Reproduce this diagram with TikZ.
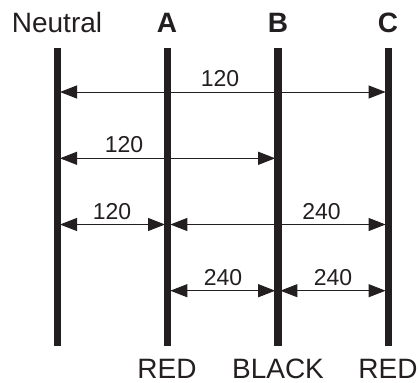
\documentclass[tikz,border=0pt]{standalone}
\usepackage{fontspec}
\setmainfont{Liberation Sans}
\usetikzlibrary{arrows.meta}
\definecolor{ink}{HTML}{231F20}
\tikzset{
 bar/.style={line width=7.4pt,draw=ink},
 dim/.style={line width=1pt,draw=ink,{Triangle[length=17pt,width=13pt,fill=ink]}-{Triangle[length=17pt,width=13pt,fill=ink]}},
 lab/.style={inner sep=0pt,text=ink,font=\fontsize{23pt}{26pt}\selectfont,anchor=base},
 head/.style={inner sep=0pt,text=ink,font=\fontsize{28pt}{32pt}\selectfont,anchor=base}
}
\begin{document}
\begin{tikzpicture}[x=1pt,y=-1pt]
\useasboundingbox (0,0) rectangle (418,383);
\coordinate (nt) at (57.5,48); \coordinate (nb) at (57.5,346);
\coordinate (at) at (167.7,48); \coordinate (ab) at (167.7,346);
\coordinate (bt) at (277.8,48); \coordinate (bb) at (277.8,346);
\coordinate (ct) at (388.2,48); \coordinate (cb) at (388.2,346);
\draw[bar] (nt)--(nb); \draw[bar] (at)--(ab); \draw[bar] (bt)--(bb); \draw[bar] (ct)--(cb);
\node[head] (hn) at (57,32) {Neutral};
\node[head] (ha) at (167,32) {\bfseries A};
\node[head] (hb) at (278,32) {\bfseries B};
\node[head] (hc) at (388,32) {\bfseries C};
\node[head] (fa) at (167,378) {RED};
\node[head] (fb) at (278,378) {BLACK};
\node[head] (fc) at (388,378) {RED};
\coordinate (n1) at (60,92); \coordinate (c1) at (385.6,92);
\coordinate (n2) at (60,158.3); \coordinate (b2) at (275.2,158.3);
\coordinate (n3) at (60,224.5); \coordinate (a3) at (165,224.5);
\coordinate (a3r) at (170.3,224.5); \coordinate (c3) at (385.6,224.5);
\coordinate (a4) at (170.3,290.7); \coordinate (b4) at (275.2,290.7);
\coordinate (b4r) at (280.4,290.7); \coordinate (c4) at (385.6,290.7);
\draw[dim] (n1)--(c1); \draw[dim] (n2)--(b2); \draw[dim] (n3)--(a3); \draw[dim] (a3r)--(c3); \draw[dim] (a4)--(b4); \draw[dim] (b4r)--(c4);
\node[lab] (l1) at (220,86) {120};
\node[lab] (l2) at (124,152) {120};
\node[lab] (l3) at (112,219) {120};
\node[lab] (l4) at (321.5,219) {240};
\node[lab] (l5) at (223,285) {240};
\node[lab] (l6) at (333,285) {240};
\end{tikzpicture}
\end{document}
